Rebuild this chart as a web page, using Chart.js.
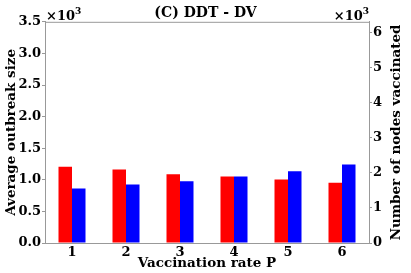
<!DOCTYPE html>
<html><head><meta charset="utf-8">
<script src="https://cdn.jsdelivr.net/npm/chart.js@4/dist/chart.umd.min.js"></script>
<style>html,body{margin:0;padding:0;background:#fff}#wrap{width:411px;height:273px}</style>
</head><body><div id="wrap"><canvas id="c" width="411" height="273"></canvas></div>
<script>
const categories = ['1','2','3','4','5','6'];
const outbreakSize = [1205, 1164, 1089, 1053, 1005, 952];
const nodesVaccinated = [1554, 1667, 1761, 1895, 2047, 2238];
const leftTicks = [0, 500, 1000, 1500, 2000, 2500, 3000, 3500];
const rightTicks = [0, 1000, 2000, 3000, 4000, 5000, 6000];
const rightTitle = 'Number of nodes vaccinated';

const FONT = "'DejaVu Serif', serif";
const GREY = '#999';

const frame = {
  id: 'frame',
  afterDatasetsDraw(chart) {
    const a = chart.chartArea, ctx = chart.ctx;
    ctx.save();
    ctx.strokeStyle = GREY; ctx.lineWidth = 1;
    ctx.beginPath();
    ctx.moveTo(a.left, a.top + 0.5); ctx.lineTo(a.right, a.top + 0.5);
    ctx.stroke();
    ctx.fillStyle = '#000';
    ctx.textBaseline = 'alphabetic';
    ctx.textAlign = 'left';
    const big = "bold 13px " + FONT, small = "bold 9px " + FONT;
    ctx.font = big;
    const w = ctx.measureText('\u00d710').width;
    ctx.font = small;
    const w3 = ctx.measureText('3').width;
    const put = (x) => {
      ctx.font = big; ctx.fillText('\u00d710', x, a.top - 2);
      ctx.font = small; ctx.fillText('3', x + w, a.top - 8);
    };
    put(a.left + 1);
    put(a.right - w - w3);
    // right axis title, reading bottom-to-top
    ctx.font = "bold 13.5px " + FONT;
    ctx.textAlign = 'center';
    ctx.textBaseline = 'middle';
    ctx.translate(396, (a.top + a.bottom) / 2);
    ctx.rotate(-Math.PI / 2);
    ctx.fillText(rightTitle, 0, 0);
    ctx.restore();
  }
};

new Chart(document.getElementById('c'), {
  type: 'bar',
  data: {
    labels: categories,
    datasets: [
      { label: 'Average outbreak size', data: outbreakSize, backgroundColor: '#ff0000', yAxisID: 'y', categoryPercentage: 0.5, barPercentage: 1.0 },
      { label: rightTitle, data: nodesVaccinated, backgroundColor: '#0000ff', yAxisID: 'y2', categoryPercentage: 0.5, barPercentage: 1.0 }
    ]
  },
  options: {
    responsive: false,
    animation: false,
    devicePixelRatio: 1,
    layout: { padding: 0 },
    plugins: {
      legend: { display: false },
      tooltip: { enabled: false },
      title: { display: true, text: '(C) DDT - DV', color: '#000', font: { family: FONT, size: 14, weight: 'bold' }, padding: { top: 5, bottom: 0 } }
    },
    scales: {
      x: {
        grid: { display: false, drawTicks: false },
        border: { color: GREY, width: 1 },
        ticks: { color: '#000', font: { family: FONT, size: 13, weight: 'bold' }, padding: 2 },
        title: { display: true, text: 'Vaccination rate P', color: '#000', font: { family: FONT, size: 13.5, weight: 'bold' }, padding: { top: 0, bottom: 1 } },
        afterFit(s) { s.height = 30; }
      },
      y: {
        position: 'left', min: 0, max: 3500,
        afterBuildTicks(s) { s.ticks = leftTicks.map(v => ({ value: v })); },
        grid: { drawOnChartArea: false, drawTicks: true, tickLength: 3, color: GREY },
        border: { color: GREY, width: 1 },
        ticks: { color: '#000', font: { family: FONT, size: 13, weight: 'bold' }, padding: 1, callback: v => (v / 1000).toFixed(1) },
        title: { display: true, text: 'Average outbreak size', color: '#000', font: { family: FONT, size: 13.5, weight: 'bold' }, padding: { top: 3, bottom: 0 } },
        afterFit(s) { s.width = 45; }
      },
      y2: {
        position: 'right', min: 0, max: 6300,
        afterBuildTicks(s) { s.ticks = rightTicks.map(v => ({ value: v })); },
        grid: { drawOnChartArea: false, drawTicks: true, tickLength: 3, color: GREY },
        border: { color: GREY, width: 1 },
        ticks: { color: '#000', font: { family: FONT, size: 13, weight: 'bold' }, padding: 1, callback: v => String(v / 1000) },
        title: { display: false },
        afterFit(s) { s.width = 42; }
      }
    }
  },
  plugins: [frame]
});
</script>
</body></html>
